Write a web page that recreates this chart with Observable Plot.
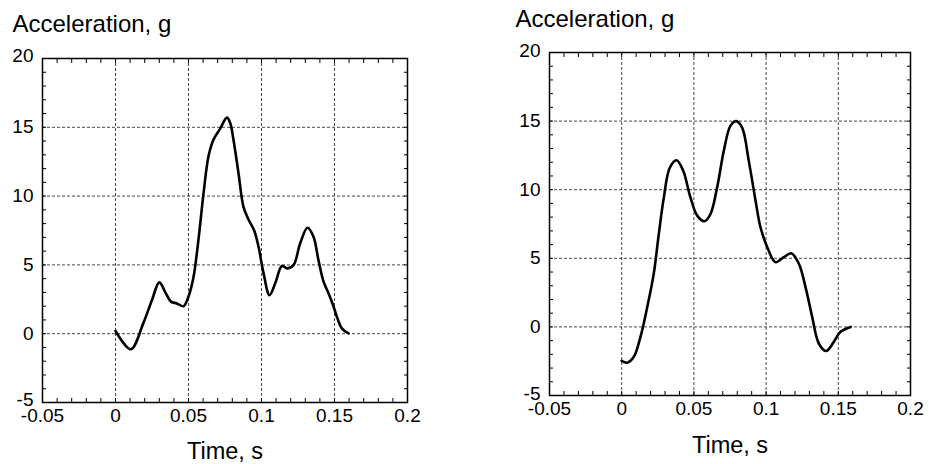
<!DOCTYPE html>
<html>
<head>
<meta charset="utf-8">
<script src="https://cdn.jsdelivr.net/npm/d3@7"></script>
<script src="https://cdn.jsdelivr.net/npm/@observablehq/plot@0.6"></script>
<style>
  html, body { margin: 0; padding: 0; background: #fff; }
  #wrap { position: relative; width: 929px; height: 464px; overflow: hidden; }
  #wrap svg { position: absolute; top: 0; }
</style>
</head>
<body>
<div id="wrap"></div>
<script>
// ---- data ----
const xTicks = [-0.05, 0, 0.05, 0.1, 0.15, 0.2];
const yTicks = [-5, 0, 5, 10, 15, 20];
const xMinor = d3.range(-50, 201, 10).map(v => v / 1000);
const yMinor = d3.range(-5, 21, 1);
const yTitle = "Acceleration, g";
const xTitle = "Time, s";

const leftTime  = [0, 0.0105, 0.019, 0.025, 0.030, 0.0345, 0.038, 0.042, 0.0466, 0.050, 0.0534, 0.0568, 0.0603, 0.0637, 0.0671, 0.0717, 0.0763, 0.0786, 0.0808, 0.0842, 0.0877, 0.0911, 0.095, 0.098, 0.1014, 0.1055, 0.1094, 0.114, 0.1178, 0.122, 0.1265, 0.1315, 0.1356, 0.139, 0.1425, 0.1459, 0.149, 0.152, 0.155, 0.1596];
const leftAccel = [0.2, -1.13, 0.75, 2.45, 3.73, 2.93, 2.33, 2.2, 2.0, 2.7, 4.1, 6.8, 10.2, 12.9, 14.1, 14.9, 15.7, 15.3, 14.1, 11.7, 9.2, 8.3, 7.5, 6.3, 4.4, 2.8, 3.66, 4.92, 4.75, 5.0, 6.57, 7.7, 7.05, 5.36, 3.78, 2.94, 2.09, 1.12, 0.39, 0.02];

const rightTime  = [0, 0.0038, 0.0084, 0.013, 0.0177, 0.0222, 0.0257, 0.0292, 0.0333, 0.038, 0.0426, 0.0476, 0.0523, 0.0573, 0.0615, 0.0661, 0.0707, 0.0753, 0.0793, 0.0834, 0.088, 0.0927, 0.0961, 0.1008, 0.1065, 0.1123, 0.1174, 0.1227, 0.1273, 0.1319, 0.1365, 0.1416, 0.1469, 0.1515, 0.1585];
const rightAccel = [-2.47, -2.61, -2.18, -0.73, 1.45, 3.88, 6.78, 9.44, 11.6, 12.15, 11.38, 9.44, 8.11, 7.7, 8.23, 10.17, 12.83, 14.65, 15.0, 14.52, 12.1, 9.2, 7.26, 5.81, 4.72, 5.08, 5.37, 4.6, 2.9, 0.73, -1.21, -1.76, -1.09, -0.36, 0.0];

// ---- drawing ----
const FONT = "'Liberation Sans', Arial, Helvetica, sans-serif";
const TICK_FS = 19;
function panel(times, accels, cfg) {
  const data = times.map((t, i) => ({t, a: accels[i]}));
  const grid = {stroke: "#000", strokeOpacity: 0.9, strokeWidth: 0.8, strokeDasharray: "3,2"};
  const inner = yTicks.filter(d => d !== yTicks[0] && d !== yTicks[yTicks.length - 1]);
  const ends = [yTicks[0], yTicks[yTicks.length - 1]];
  return Plot.plot({
    width: cfg.width, height: 464,
    marginLeft: cfg.ml, marginRight: cfg.mr, marginTop: cfg.mt, marginBottom: cfg.mb,
    style: {fontFamily: FONT, fontSize: TICK_FS + "px", color: "#000", background: "#fff", overflow: "visible"},
    x: {domain: [-0.05, 0.2]},
    y: {domain: [-5, 20]},
    marks: [
      Plot.gridX(xTicks, grid),
      Plot.gridY(yTicks, grid),
      Plot.axisX(xMinor, {anchor: "bottom", tickSize: -4, tickFormat: () => "", label: null, strokeWidth: 1}),
      Plot.axisX(xMinor, {anchor: "top", tickSize: -4, tickFormat: () => "", label: null, strokeWidth: 1}),
      Plot.axisY(yMinor, {anchor: "left", tickSize: -4, tickFormat: () => "", label: null, strokeWidth: 1}),
      Plot.axisY(yMinor, {anchor: "right", tickSize: -4, tickFormat: () => "", label: null, strokeWidth: 1}),
      Plot.axisX(xTicks, {anchor: "bottom", tickSize: 0, tickPadding: cfg.xpad, tickFormat: d => String(d), label: null, fontSize: TICK_FS}),
      Plot.axisY(inner, {anchor: "left", tickSize: 0, tickPadding: 9, tickFormat: d => String(d), label: null, fontSize: TICK_FS}),
      Plot.axisY(ends, {anchor: "left", tickSize: 0, tickPadding: 9, tickFormat: d => String(d), label: null, fontSize: TICK_FS, dy: cfg.endDy}),
      Plot.frame({stroke: "#000", strokeWidth: 1.5}),
      Plot.line(data, {x: "t", y: "a", curve: "catmull-rom", stroke: "#000", strokeWidth: 2.6}),
      Plot.text([yTitle], {frameAnchor: "top-left", textAnchor: "start", lineAnchor: "bottom", dx: cfg.tdx, dy: cfg.tdy, fontSize: 24, fill: "#000"}),
      Plot.text([xTitle], {frameAnchor: "bottom", lineAnchor: "bottom", dy: cfg.xdy, fontSize: 23.5, fill: "#000"})
    ]
  });
}

const left = panel(leftTime, leftAccel, {width: 465, ml: 42, mr: 58, mt: 58, mb: 62, xpad: 6, endDy: -3, tdx: -30, tdy: -27, xdy: 56});
left.style.left = "0px";
const right = panel(rightTime, rightAccel, {width: 464, ml: 84, mr: 19, mt: 52, mb: 69, xpad: 6, endDy: -2, tdx: -34, tdy: -26, xdy: 57});
right.style.left = "465px";
document.getElementById("wrap").append(left, right);
</script>
</body>
</html>
